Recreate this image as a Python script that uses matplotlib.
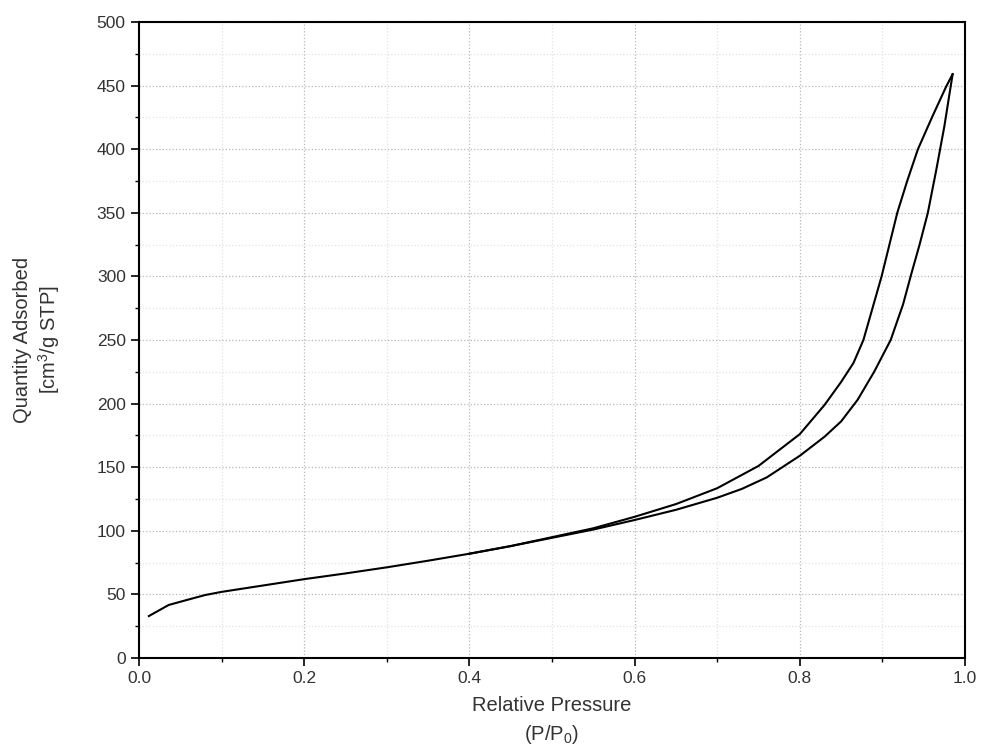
import matplotlib.pyplot as plt
from matplotlib.ticker import MultipleLocator

plt.rcParams['font.family'] = ['Liberation Sans', 'DejaVu Sans']
plt.rcParams['mathtext.fontset'] = 'custom'
plt.rcParams['mathtext.rm'] = 'Liberation Sans'
plt.rcParams['mathtext.it'] = 'Liberation Sans:italic'

# adsorption branch (lower)
ads_p = [0.012, 0.036, 0.06, 0.08, 0.10, 0.15, 0.20, 0.25, 0.30, 0.35, 0.40, 0.45,
         0.50, 0.55, 0.60, 0.65, 0.70, 0.73, 0.76, 0.80, 0.83, 0.85, 0.87, 0.89, 0.91,
         0.925, 0.935, 0.945, 0.955, 0.965, 0.975, 0.985]
ads_q = [33, 41.7, 46, 49.5, 52, 57, 62, 66.5, 71.3, 76.5, 82, 88,
         94.5, 101, 108.5, 116.5, 126, 133, 142, 159, 174, 186, 203, 225, 250,
         278, 302, 325, 350, 383, 418, 459]

# desorption branch (upper)
des_p = [0.985, 0.977, 0.96, 0.943, 0.93, 0.918, 0.899, 0.888, 0.877, 0.865, 0.85,
         0.83, 0.80, 0.75, 0.70, 0.65, 0.60, 0.55, 0.50, 0.45, 0.40]
des_q = [459, 449, 425, 400, 375, 350, 300, 275, 250, 232, 217,
         199, 176, 151, 133.5, 121, 111, 102, 95, 88, 82]

fig = plt.figure(figsize=(9.82, 7.51), dpi=100)
ax = fig.add_axes([0.1415, 0.1238, 0.8412, 0.8469])

ax.plot(ads_p, ads_q, color='black', lw=1.5)
ax.plot(des_p, des_q, color='black', lw=1.5)

ax.set_xlim(0, 1.0)
ax.set_ylim(0, 500)
ax.xaxis.set_major_locator(MultipleLocator(0.2))
ax.xaxis.set_minor_locator(MultipleLocator(0.1))
ax.yaxis.set_major_locator(MultipleLocator(50))
ax.yaxis.set_minor_locator(MultipleLocator(25))
ax.xaxis.set_major_formatter(lambda v, pos: f'{v:.1f}')

ax.grid(True, which='major', color='#b8b8b8', ls=':', lw=0.9)
ax.grid(True, which='minor', color='#e2e2e2', ls=':', lw=0.9)
ax.set_axisbelow(True)

for s in ax.spines.values():
    s.set_linewidth(1.5)
ax.tick_params(which='major', direction='out', length=6, width=1.2, labelsize=12.5,
               labelcolor='#333333', top=False, right=False)
ax.tick_params(which='minor', direction='out', length=3, width=1.0, top=False, right=False)

ax.set_xlabel('Relative Pressure\n(P/P$_0$)', fontsize=14.5, color='#333333',
              labelpad=7, linespacing=1.45)
ax.set_ylabel('Quantity Adsorbed\n[cm$^3$/g STP]', fontsize=14.5, color='#333333',
              labelpad=25)

plt.savefig('out.png', dpi=100)
